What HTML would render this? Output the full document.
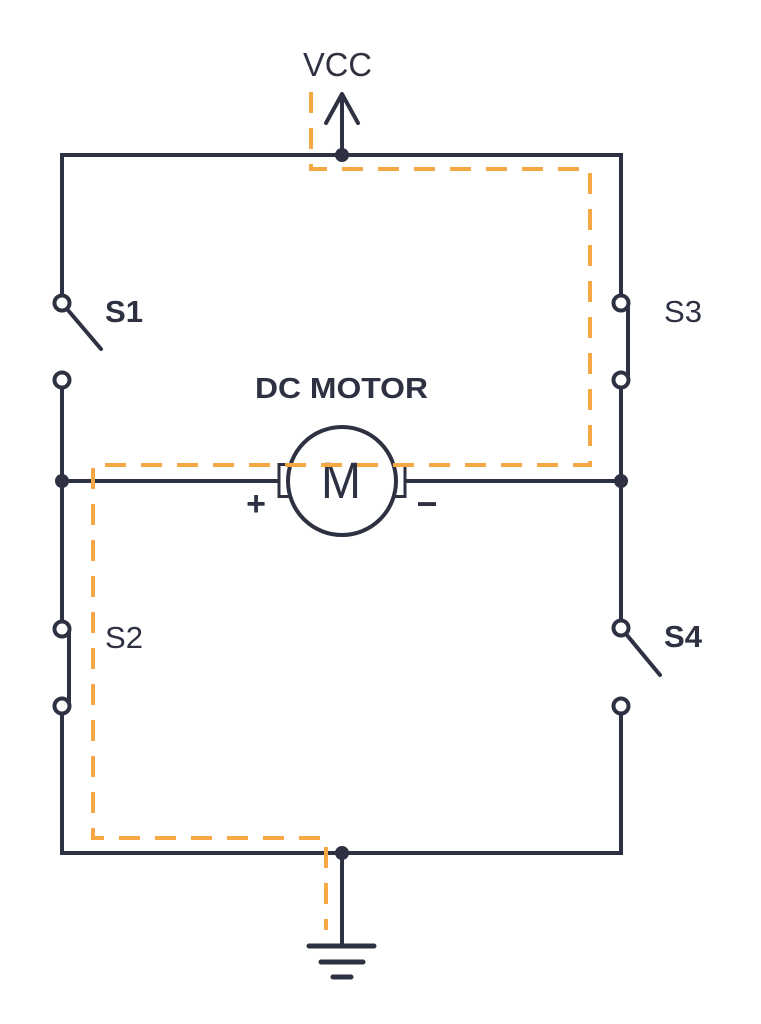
<!DOCTYPE html>
<html>
<head>
<meta charset="utf-8">
<style>
html,body{margin:0;padding:0;background:#fff;}
svg{display:block;}
text{font-family:"Liberation Sans",sans-serif;fill:#2d3142;}
</style>
</head>
<body>
<svg width="761" height="1024" viewBox="0 0 761 1024" xmlns="http://www.w3.org/2000/svg">
<rect width="761" height="1024" fill="#fff"/>
<g stroke="#2d3142" stroke-width="4" fill="none" stroke-linecap="butt" stroke-linejoin="miter">
  <!-- top wire -->
  <path d="M62,296 V155 H621 V296"/>
  <!-- VCC arrow -->
  <line x1="342" y1="155" x2="342" y2="94"/>
  <polyline points="326,123 342,94 358,123" stroke-linecap="round" stroke-linejoin="round"/>
  <!-- left side -->
  <line x1="62" y1="387" x2="62" y2="621"/>
  <path d="M62,714 V853 H621 V714"/>
  <!-- right side -->
  <line x1="621" y1="387" x2="621" y2="621"/>
  <!-- middle wire -->
  <line x1="62" y1="481" x2="278" y2="481"/>
  <line x1="406" y1="481" x2="621" y2="481"/>
  <!-- S1 lever -->
  <line x1="67" y1="309" x2="101" y2="349" stroke-linecap="round"/>
  <!-- S4 lever -->
  <line x1="626" y1="634" x2="660" y2="675" stroke-linecap="round"/>
  <!-- S3 bar -->
  <line x1="628" y1="303" x2="628" y2="380"/>
  <!-- S2 bar -->
  <line x1="69" y1="629" x2="69" y2="706"/>
  <!-- ground -->
  <line x1="342" y1="853" x2="342" y2="946"/>
  <line x1="309" y1="946" x2="374" y2="946" stroke-width="5" stroke-linecap="round"/>
  <line x1="321" y1="962" x2="363" y2="962" stroke-width="5" stroke-linecap="round"/>
  <line x1="333" y1="977" x2="351" y2="977" stroke-width="5" stroke-linecap="round"/>
  <!-- switch terminals -->
  <circle cx="62" cy="303" r="7.5" fill="#fff"/>
  <circle cx="62" cy="380" r="7.5" fill="#fff"/>
  <circle cx="62" cy="629" r="7.5" fill="#fff"/>
  <circle cx="62" cy="706" r="7.5" fill="#fff"/>
  <circle cx="621" cy="303" r="7.5" fill="#fff"/>
  <circle cx="621" cy="380" r="7.5" fill="#fff"/>
  <circle cx="621" cy="628" r="7.5" fill="#fff"/>
  <circle cx="621" cy="706" r="7.5" fill="#fff"/>
  <!-- motor terminals -->
  <rect x="279" y="464.5" width="11" height="32" stroke-width="3" fill="#fff"/>
  <rect x="394" y="464.5" width="11" height="32" stroke-width="3" fill="#fff"/>
  <!-- motor -->
  <circle cx="342" cy="481" r="54" fill="#fff"/>
</g>
<!-- junction dots -->
<g fill="#2d3142">
  <circle cx="342" cy="155" r="7"/>
  <circle cx="62" cy="481" r="7"/>
  <circle cx="621" cy="481" r="7"/>
  <circle cx="342" cy="853" r="7"/>
</g>
<!-- labels -->
<text x="303" y="76" font-size="33" textLength="69" lengthAdjust="spacingAndGlyphs">VCC</text>
<text x="255" y="398" font-size="29" font-weight="bold" textLength="173" lengthAdjust="spacingAndGlyphs">DC MOTOR</text>
<text x="321" y="498" font-size="51" textLength="40" lengthAdjust="spacingAndGlyphs">M</text>
<text x="105" y="322" font-size="31" font-weight="bold" textLength="38" lengthAdjust="spacingAndGlyphs">S1</text>
<text x="105" y="648" font-size="31" textLength="38" lengthAdjust="spacingAndGlyphs">S2</text>
<text x="664" y="322" font-size="31" textLength="38" lengthAdjust="spacingAndGlyphs">S3</text>
<text x="664" y="647" font-size="31" font-weight="bold" textLength="38" lengthAdjust="spacingAndGlyphs">S4</text>
<text x="256" y="515" font-size="34" font-weight="bold" text-anchor="middle">+</text>
<text x="427" y="516" font-size="36" font-weight="bold" text-anchor="middle">−</text>
<!-- current path -->
<path d="M311,92 V169 H590 V465 H93 V838 H326 V930" stroke="#f7a845" stroke-width="4" fill="none" stroke-dasharray="21 15" stroke-linejoin="miter"/>
</svg>
</body>
</html>
